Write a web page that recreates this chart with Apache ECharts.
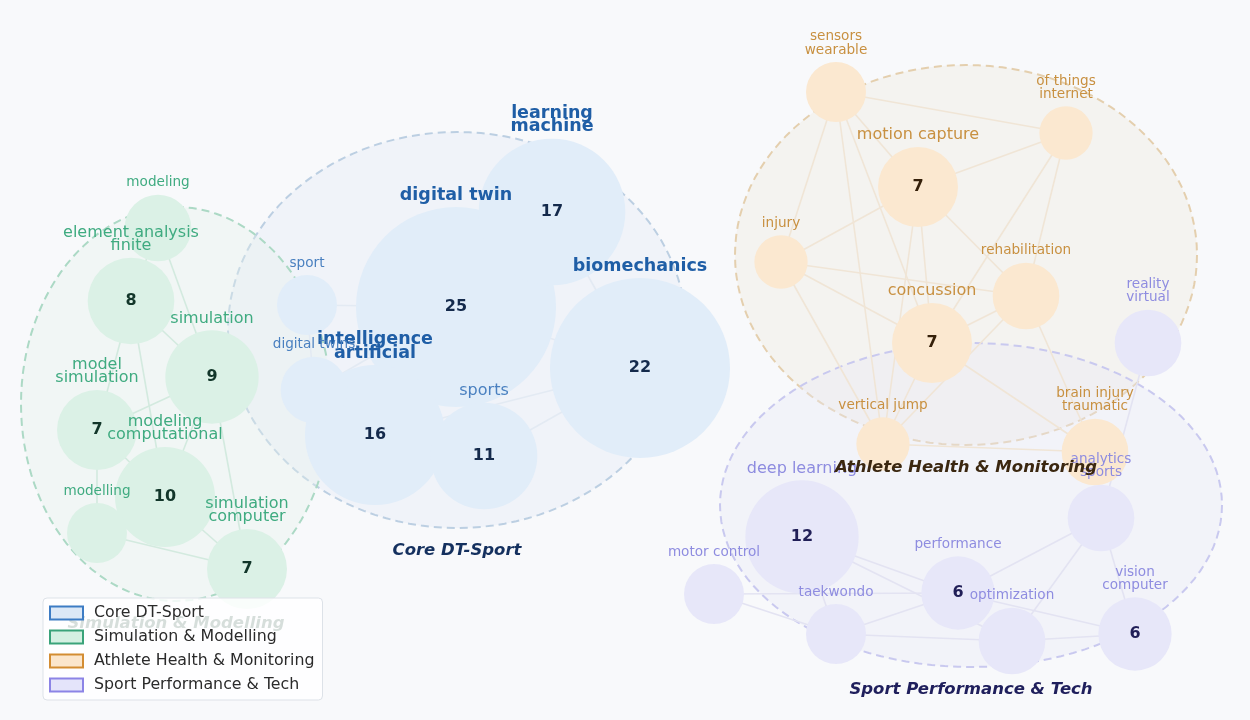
<!DOCTYPE html>
<html><head><meta charset="utf-8">
<script src="https://cdn.jsdelivr.net/npm/echarts@6/dist/echarts.min.js"></script>
<style>html,body{margin:0;padding:0;background:#f8f9fb}#c{width:1250px;height:720px}</style>
</head><body><div id="c"></div>
<script>
// ---------- DATA ----------
const clusters = ['Core DT-Sport', 'Simulation & Modelling', 'Athlete Health & Monitoring', 'Sport Performance & Tech'];
// cluster regions (layout units: centre x, centre y, radius x, radius y)
const clusterCX = [457, 176, 966, 971];
const clusterCY = [330, 404, 255, 505];
const clusterRX = [229, 155, 231, 251];
const clusterRY = [198, 197, 190, 162];

const nodeNames = [
  'digital twin', 'learning\nmachine', 'biomechanics', 'intelligence\nartificial', 'sports', 'sport', 'digital twins',
  'modeling', 'element analysis\nfinite', 'simulation', 'model\nsimulation', 'modeling\ncomputational', 'modelling', 'simulation\ncomputer',
  'sensors\nwearable', 'of things\ninternet', 'motion capture', 'injury', 'rehabilitation', 'concussion', 'vertical jump', 'brain injury\ntraumatic',
  'reality\nvirtual', 'deep learning', 'motor control', 'taekwondo', 'performance', 'optimization', 'analytics\nsports', 'vision\ncomputer'
];
const nodeCluster = [0,0,0,0,0,0,0, 1,1,1,1,1,1,1, 2,2,2,2,2,2,2,2, 3,3,3,3,3,3,3,3];
const nodeX = [456, 552, 640, 375, 484, 307, 314,
               158, 131, 212, 97, 165, 97, 247,
               836, 1066, 918, 781, 1026, 932, 883, 1095,
               1148, 802, 714, 836, 958, 1012, 1101, 1135];
const nodeY = [307, 212, 368, 435, 456, 305, 390,
               228, 301, 377, 430, 497, 533, 569,
               92, 133, 187, 262, 296, 343, 444, 452,
               343, 537, 594, 634, 593, 641, 518, 634];
const nodeCount = [25, 17, 22, 16, 11, 4, 5,
                   5, 8, 9, 7, 10, 4, 7,
                   4, 3, 7, 3, 5, 7, 3, 5,
                   5, 12, 4, 4, 6, 5, 5, 6];

const links = [
  ['digital twin','learning\nmachine'], ['digital twin','biomechanics'], ['digital twin','intelligence\nartificial'],
  ['digital twin','sports'], ['digital twin','sport'], ['digital twin','digital twins'], ['intelligence\nartificial','sports'],
  ['sports','biomechanics'], ['learning\nmachine','biomechanics'], ['digital twins','intelligence\nartificial'],
  ['sport','digital twins'], ['intelligence\nartificial','biomechanics'],
  ['modeling','simulation'], ['modeling','element analysis\nfinite'], ['element analysis\nfinite','simulation'],
  ['element analysis\nfinite','modeling\ncomputational'], ['element analysis\nfinite','model\nsimulation'],
  ['model\nsimulation','simulation'], ['model\nsimulation','modeling\ncomputational'], ['simulation','modeling\ncomputational'],
  ['simulation','simulation\ncomputer'], ['modeling\ncomputational','simulation\ncomputer'], ['modelling','simulation\ncomputer'],
  ['modelling','modeling\ncomputational'], ['modelling','model\nsimulation'],
  ['sensors\nwearable','of things\ninternet'], ['sensors\nwearable','motion capture'], ['sensors\nwearable','injury'],
  ['sensors\nwearable','concussion'], ['sensors\nwearable','vertical jump'], ['motion capture','of things\ninternet'],
  ['motion capture','injury'], ['motion capture','rehabilitation'], ['motion capture','concussion'], ['motion capture','vertical jump'],
  ['of things\ninternet','rehabilitation'], ['of things\ninternet','concussion'], ['injury','concussion'], ['injury','vertical jump'],
  ['injury','rehabilitation'], ['concussion','rehabilitation'], ['concussion','brain injury\ntraumatic'], ['concussion','vertical jump'],
  ['rehabilitation','brain injury\ntraumatic'], ['rehabilitation','vertical jump'], ['vertical jump','brain injury\ntraumatic'],
  ['deep learning','performance'], ['deep learning','taekwondo'], ['deep learning','optimization'], ['motor control','performance'],
  ['motor control','taekwondo'], ['taekwondo','performance'], ['taekwondo','optimization'], ['optimization','vision\ncomputer'],
  ['performance','analytics\nsports'], ['performance','vision\ncomputer'], ['optimization','analytics\nsports'],
  ['analytics\nsports','vision\ncomputer'], ['analytics\nsports','reality\nvirtual']
];

// ---------- STYLES ----------
const FONT = 'DejaVu Sans';
const nodeFill   = ['#e1edf9', '#dbf1e6', '#fbe8d0', '#e7e7f9'];
const labelCol   = ['#1f5ea6', '#3fab80', '#c89040', '#8e8ce0'];
const smallLab   = ['#4a80c0', '#3fab80', '#c89040', '#8e8ce0'];
const numCol     = ['#142a4c', '#12362a', '#35200a', '#211f58'];
const edgeCol    = ['#e3eaf3', '#d3eadf', '#f0e5d6', '#e3e3f2'];
const hullStroke = ['#bccfe2', '#acd9c5', '#e4cfae', '#c9c9ef'];
const hullFill   = ['rgba(230,235,246,0.45)', 'rgba(228,240,236,0.35)', 'rgba(240,236,226,0.45)', 'rgba(232,232,246,0.35)'];
const titleCol   = ['#14305e', '#1d4a38', '#3b2710', '#1f1f5c'];
const legBorder  = ['#3d7cc4', '#3aa37a', '#d38d33', '#8c84e6'];
const legFill    = ['#dce8f6', '#d4f0e2', '#fbe6cc', '#e4e4fa'];

const diam = n => 33.3 + 6.67 * n;

// ---------- BUILD ----------
const graphSeries = clusters.map((cname, ci) => {
  const data = [];
  nodeNames.forEach((nm, i) => {
    if (nodeCluster[i] !== ci) return;
    const n = nodeCount[i];
    const big = ci === 0 && n >= 16;
    data.push({
      name: nm,
      value: [nodeX[i], nodeY[i]],
      symbolSize: diam(n),
      itemStyle: { color: nodeFill[ci], opacity: 1 },
      label: {
        fontSize: big ? 17.5 : (n >= 7 ? 16 : 13.6),
        fontWeight: big ? 'bold' : 'normal',
        color: big ? labelCol[ci] : smallLab[ci]
      }
    });
  });
  const names = new Set(data.map(d => d.name));
  return {
    type: 'graph', name: cname, coordinateSystem: 'cartesian2d', layout: 'none',
    z: 3, silent: true,
    data,
    links: links.filter(l => names.has(l[0]) && names.has(l[1])).map(l => ({ source: l[0], target: l[1] })),
    lineStyle: { color: edgeCol[ci], width: 1.6, opacity: 1, curveness: 0 },
    label: { show: true, position: 'top', distance: 5, lineHeight: 13.5, fontFamily: FONT, formatter: '{b}' },
    emphasis: { disabled: true },
    itemStyle: { color: nodeFill[ci] }
  };
});

const hullSeries = {
  type: 'custom', z: 1, silent: true, clip: false,
  data: clusters.map((c, i) => [clusterCX[i], clusterCY[i], clusterRX[i], clusterRY[i], i]),
  renderItem: (params, api) => {
    const c = api.coord([api.value(0), api.value(1)]);
    const s = api.size([api.value(2), api.value(3)]);
    const ci = api.value(4);
    const pts = [];
    for (let k = 0; k < 120; k++) {
      const a = k / 120 * Math.PI * 2;
      pts.push([c[0] + s[0] * Math.cos(a), c[1] + s[1] * Math.sin(a)]);
    }
    return {
      type: 'polygon', shape: { points: pts },
      style: { fill: hullFill[ci], stroke: hullStroke[ci], lineWidth: 2, lineDash: [8, 5] }
    };
  }
};

// text drawn through a custom series so nothing inherits symbol opacity
function textSeries(z, items, font) {
  return {
    type: 'custom', z, silent: true, clip: false,
    data: items,
    renderItem: (params, api) => {
      const it = items[params.dataIndex];
      const p = api.coord([it.value[0], it.value[1]]);
      return {
        type: 'text', x: p[0], y: p[1],
        style: Object.assign({ text: String(it.value[2]), fill: it.color, align: 'center', verticalAlign: 'middle', fontFamily: FONT }, font)
      };
    }
  };
}

const numberItems = nodeNames.map((nm, i) => i).filter(i => nodeCount[i] >= 6).map(i => ({
  value: [nodeX[i], nodeY[i], nodeCount[i]], color: numCol[nodeCluster[i]]
}));
const titleItems = clusters.map((c, i) => ({
  value: [clusterCX[i], clusterCY[i] + clusterRY[i] + 23, c], color: titleCol[i]
}));

const chart = echarts.init(document.getElementById('c'), null, { renderer: 'canvas' });
chart.setOption({
  backgroundColor: '#f8f9fb',
  animation: false,
  grid: { left: 0, right: 0, top: 0, bottom: 0 },
  xAxis: { type: 'value', min: 0, max: 1250, show: false },
  yAxis: { type: 'value', min: 0, max: 720, inverse: true, show: false },
  legend: {
    orient: 'vertical', left: 43, top: 598, z: 20,
    padding: [7, 8, 7, 6], itemGap: 8, itemWidth: 33, itemHeight: 13,
    backgroundColor: 'rgba(255,255,255,0.82)', borderColor: '#dde2e8', borderWidth: 1, borderRadius: 4,
    selectedMode: false,
    textStyle: { fontFamily: FONT, fontSize: 15.8, color: '#2a2a2a', lineHeight: 15, padding: [0, 0, 0, 6] },
    data: clusters.map((c, i) => ({
      name: c, icon: 'rect',
      itemStyle: { color: legFill[i], borderColor: legBorder[i], borderWidth: 2 }
    }))
  },
  series: [
    hullSeries, ...graphSeries,
    textSeries(6, numberItems, { fontWeight: 'bold', fontSize: 16 }),
    textSeries(8, titleItems, { fontWeight: 'bold', fontStyle: 'italic', fontSize: 16.5 })
  ]
});
</script>
</body></html>
